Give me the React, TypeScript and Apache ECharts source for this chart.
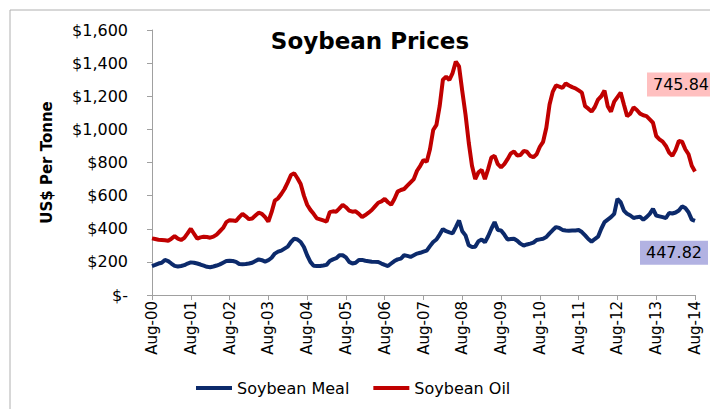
import React, { useEffect, useRef } from "react";
import * as echarts from "echarts";

const monthNames = ["Aug", "Sep", "Oct", "Nov", "Dec", "Jan", "Feb", "Mar", "Apr", "May", "Jun", "Jul"];
// Monthly categories Aug-00 .. Aug-14
const categories: string[] = [];
for (let i = 0; i <= 168; i++) {
  const mi = i % 12;
  const yr = 2000 + Math.floor((i + 7) / 12);
  categories.push(`${monthNames[mi]}-${String(yr % 100).padStart(2, "0")}`);
}

const soybeanMeal = [
  175, 182, 190, 195, 212, 205, 190, 176, 172, 175, 180, 190,
  197, 195, 190, 184, 177, 170, 168, 172, 178, 185, 195, 205,
  207, 205, 200, 187, 186, 187, 190, 195, 205, 215, 210, 202,
  210, 225, 250, 262, 268, 280, 292, 320, 340, 335, 320, 290,
  240, 200, 176, 175, 175, 178, 182, 205, 215, 222, 240, 240,
  227, 200, 190, 195, 212, 212, 207, 204, 201, 200, 199, 190,
  182, 175, 190, 205, 215, 220, 240, 236, 230, 240, 250, 255,
  262, 268, 295, 320, 335, 365, 398, 385, 378, 372, 410, 450,
  385, 360, 300, 290, 292, 325, 335, 318, 355, 400, 440, 392,
  390, 365, 335, 338, 340, 328, 310, 298, 305, 310, 316, 332,
  336, 340, 350, 372, 392, 410, 405, 393, 390, 388, 389, 390,
  392, 380, 360, 338, 322, 338, 352, 400, 440, 455, 470, 490,
  580, 560, 510, 490, 480, 465, 470, 472, 455, 470, 490, 520,
  480, 475, 470, 465, 495, 492, 498, 510, 535, 525, 500, 455,
  447.82,
];

const soybeanOil = [
  342, 338, 334, 332, 330, 328, 340, 355, 340, 332, 345, 372,
  400, 370, 340, 348, 352, 350, 346, 352, 365, 385, 405, 440,
  452, 450, 447, 470, 490, 475, 458, 462, 480, 497, 490, 470,
  443, 500, 570, 584, 610, 640, 680, 725, 735, 705, 670, 600,
  545, 514, 490, 463, 457, 450, 443, 500, 505, 503, 523, 545,
  530, 510, 503, 505, 490, 470, 483, 497, 513, 535, 557, 565,
  580, 560, 545, 580, 624, 634, 640, 660, 680, 700, 750, 780,
  815, 805, 880, 996, 1027, 1140, 1300, 1318, 1298, 1340, 1409, 1380,
  1230, 1090, 920, 780, 700, 740, 755, 700, 760, 830, 840, 790,
  770, 790, 820, 855, 866, 842, 845, 870, 865, 840, 832, 850,
  895, 925, 1010, 1150, 1228, 1265, 1258, 1250, 1278, 1265, 1255, 1248,
  1235, 1222, 1140, 1125, 1107, 1135, 1180, 1200, 1234, 1140, 1107, 1168,
  1195, 1222, 1150, 1080, 1095, 1133, 1117, 1095, 1085, 1080, 1060, 1040,
  960, 940, 926, 900, 860, 840, 876, 930, 926, 880, 850, 780,
  745.84,
];

const yTicks = { min: 0, max: 1600, interval: 200 };
const FONT = "'DejaVu Sans', sans-serif";

export default function App() {
  const ref = useRef<HTMLDivElement>(null);
  useEffect(() => {
    if (!ref.current) return;
    const chart = echarts.init(ref.current, undefined, { renderer: "svg" });
    const axisColor = "#a0a0a0";
    chart.setOption({
      animation: false,
      backgroundColor: "#fff",
      textStyle: { fontFamily: FONT },
      title: {
        text: "Soybean Prices",
        left: 365,
        top: 24,
        textAlign: "center",
        textStyle: { fontFamily: FONT, fontSize: 23, fontWeight: "bold", color: "#000" },
      },
      graphic: [
        {
          type: "rect",
          shape: { x: 10, y: 10, width: 720, height: 420 },
          style: { fill: "none", stroke: "#b0b0b0", lineWidth: 1 },
          silent: true,
        },
      ],
      legend: {
        left: 191,
        top: 374,
        itemWidth: 36,
        itemHeight: 4,
        itemGap: 24,
        icon: "rect",
        textStyle: { fontFamily: FONT, fontSize: 16, color: "#000", lineHeight: 18 },
        data: ["Soybean Meal", "Soybean Oil"],
      },
      grid: { left: 152, right: 15, top: 30, bottom: 114, containLabel: false },
      xAxis: {
        type: "category",
        data: categories,
        boundaryGap: false,
        axisLine: { lineStyle: { color: axisColor } },
        axisTick: { show: true, interval: 11, length: 5, lineStyle: { color: axisColor } },
        axisLabel: {
          interval: 11,
          rotate: 90,
          margin: 6,
          fontFamily: FONT,
          fontSize: 15,
          color: "#000",
        },
      },
      yAxis: {
        type: "value",
        min: yTicks.min,
        max: yTicks.max,
        interval: yTicks.interval,
        name: "US$ Per Tonne",
        nameLocation: "middle",
        nameRotate: 90,
        nameGap: 98,
        nameTextStyle: { fontFamily: FONT, fontSize: 15, fontWeight: "bold", color: "#000" },
        splitLine: { show: false },
        axisLine: { show: true, lineStyle: { color: axisColor } },
        axisTick: { show: true, length: 5, lineStyle: { color: axisColor } },
        axisLabel: {
          margin: 24,
          fontFamily: FONT,
          fontSize: 16,
          color: "#000",
          formatter: (v: number) => (v === 0 ? "$-" : "$" + v.toLocaleString("en-US")),
        },
      },
      series: [
        {
          name: "Soybean Meal",
          type: "line",
          data: soybeanMeal,
          showSymbol: false,
          symbol: "none",
          color: "#0c2a6b",
          lineStyle: { width: 4, color: "#0c2a6b" },
          endLabel: {
            show: true,
            position: "right",
            distance: 0,
            offset: [-55, 32],
            formatter: () => soybeanMeal[soybeanMeal.length - 1].toFixed(2),
            backgroundColor: "#b2b2e2",
            padding: [4, 6],
            fontFamily: FONT,
            fontSize: 16,
            color: "#000",
          },
        },
        {
          name: "Soybean Oil",
          type: "line",
          data: soybeanOil,
          showSymbol: false,
          symbol: "none",
          color: "#c00000",
          lineStyle: { width: 4, color: "#c00000" },
          endLabel: {
            show: true,
            position: "right",
            distance: 0,
            offset: [-48, -87],
            formatter: () => soybeanOil[soybeanOil.length - 1].toFixed(2),
            backgroundColor: "#ffc0c0",
            padding: [4, 6],
            fontFamily: FONT,
            fontSize: 16,
            color: "#000",
          },
        },
      ],
    });
    return () => chart.dispose();
  }, []);
  return (
    <div
      ref={ref}
      style={{ position: "fixed", left: 0, top: 0, width: 710, height: 409 }}
    />
  );
}
